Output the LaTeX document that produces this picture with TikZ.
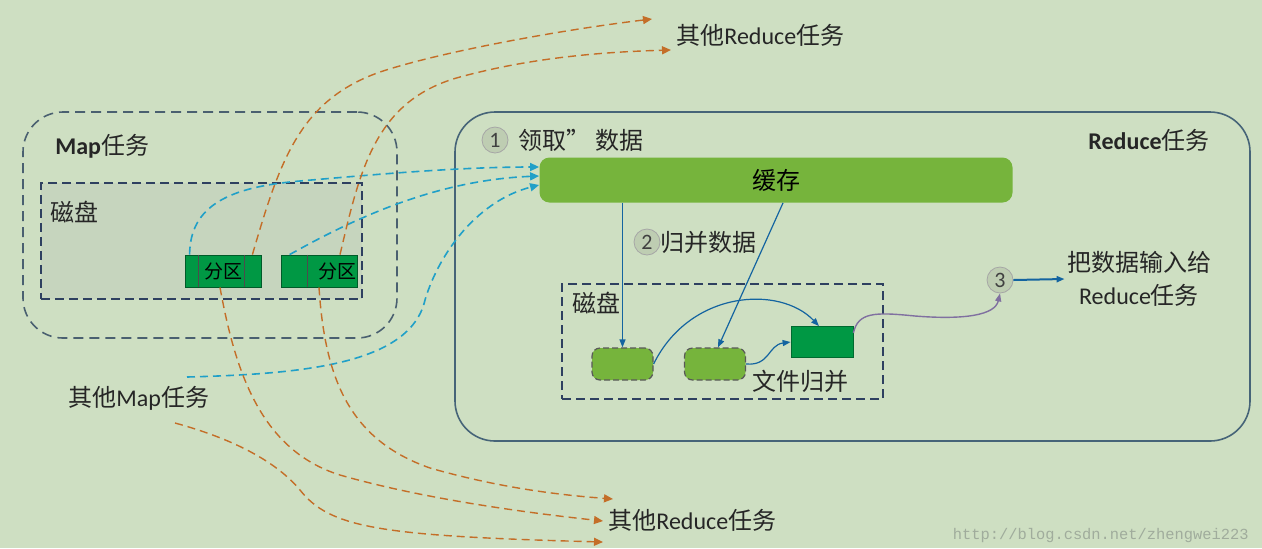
\documentclass[tikz,border=0pt]{standalone}
\usepackage{fontspec}
\setmainfont{Carlito}
\newfontfamily\cjk{Noto Sans CJK SC}
\newfontfamily\wmfont{Liberation Mono}
\usetikzlibrary{arrows.meta,fit,positioning}
\newcommand{\zh}[1]{{\cjk #1}}
\definecolor{bg}{RGB}{206,223,194}
\definecolor{mapline}{RGB}{74,96,112}
\definecolor{diskline}{RGB}{46,64,96}
\definecolor{diskfill}{RGB}{198,213,190}
\definecolor{redline}{RGB}{70,100,120}
\definecolor{cachegreen}{RGB}{118,180,60}
\definecolor{partgreen}{RGB}{0,152,68}
\definecolor{cyanline}{RGB}{32,160,200}
\definecolor{orline}{RGB}{196,110,40}
\definecolor{blueline}{RGB}{20,100,160}
\definecolor{purline}{RGB}{128,112,160}
\definecolor{wmgray}{RGB}{160,172,156}
\tikzset{
  lbl/.style={font=\fontsize{12}{14}\selectfont, inner sep=1pt, text=black!85},
  part/.style={minimum width=38pt, minimum height=16pt, inner sep=0pt, fill=partgreen,
    draw=partgreen!60!black, line width=0.4pt, font=\fontsize{9.5}{11}\selectfont},
  cache/.style={minimum width=236.5pt, minimum height=22.5pt, rounded corners=5pt,
    fill=cachegreen, font=\fontsize{12}{14}\selectfont},
  blk/.style={minimum width=30.5pt, minimum height=16pt, rounded corners=4pt, fill=cachegreen,
    draw=black!65, line width=0.6pt, dash pattern=on 3pt off 1.5pt},
  merged/.style={minimum width=31pt, minimum height=15.5pt, fill=partgreen, draw=partgreen!70!black},
  num/.style={circle, minimum size=13pt, inner sep=0pt, draw=black!35, fill=black!8!bg,
    font=\fontsize{11}{12}\selectfont, text=black!75},
  cyanl/.style={cyanline, line width=0.8pt, dash pattern=on 4pt off 2.5pt,
    -{Triangle[length=4.5pt,width=4pt]}},
  orl/.style={orline, line width=0.7pt, dash pattern=on 4pt off 2.5pt,
    -{Triangle[length=4.5pt,width=4pt]}},
  bluel/.style={blueline, line width=0.6pt, -{Triangle[length=4pt,width=3pt]}},
  purl/.style={purline, line width=0.7pt, -{Triangle[length=4pt,width=3pt]}}
}
\begin{document}
\begin{tikzpicture}[x=0.5pt,y=-0.5pt]
\fill[bg] (0,0) rectangle (1262,548);
\useasboundingbox (0,0) rectangle (1262,548);

% Map side
\node[fit={(23,112) (397,338)}, inner sep=0pt, draw=mapline, line width=0.8pt,
  dash pattern=on 5pt off 3pt, rounded corners=20pt] (map) {};
\node[lbl, anchor=west] (maplbl) at (53,146) {\textbf{Map}\zh{任务}};
\node[fit={(41,183) (362,299)}, inner sep=0pt, draw=diskline, fill=diskfill, line width=0.8pt,
  dash pattern=on 4.5pt off 2.5pt] (mdisk) {};
\node[lbl, anchor=west] (mdisklbl) at (48,212) {\zh{磁盘}};
\node[part] (p1) at (223,271) {\zh{分区}};
\node[part] (p2) at (319,271) {};
\node[font=\fontsize{9.5}{11}\selectfont, inner sep=0pt] (p2lbl) at (337,271) {\zh{分区}};
\draw[black!70, line width=0.6pt] ([xshift=7pt]p1.north west) -- ([xshift=7pt]p1.south west);
\draw[black!70, line width=0.6pt] ([xshift=-8.5pt]p1.north east) -- ([xshift=-8.5pt]p1.south east);
\draw[black!70, line width=0.6pt] ([xshift=13.5pt]p2.north west) -- ([xshift=13.5pt]p2.south west);
\node[lbl, anchor=west] (othermap) at (66,398) {\zh{其他}Map\zh{任务}};

% Reduce side
\node[fit={(455,112) (1250,441)}, inner sep=0pt, draw=redline, line width=0.8pt,
  rounded corners=20pt] (red) {};
\node[num] (c1) at (495,140) {1};
\node[lbl, anchor=west] (fetch) at (516,140) {\zh{领取”\ 数据}};
\node[lbl, anchor=east] (redlbl) at (1212,140) {\textbf{Reduce}\zh{任务}};
\node[cache] (cache) at (776,180) {\zh{缓存}};
\node[num] (c2) at (647,242) {2};
\node[lbl, anchor=west] (mergelbl) at (658,242) {\zh{归并数据}};
\node[fit={(562,284) (883,399)}, inner sep=0pt, draw=diskline, line width=0.8pt,
  dash pattern=on 4.5pt off 2.5pt] (rdisk) {};
\node[lbl, anchor=west] (rdisklbl) at (570,303) {\zh{磁盘}};
\node[blk] (b1) at (622.5,364) {};
\node[blk] (b2) at (715,364) {};
\node[merged] (mg) at (822,342) {};
\node[lbl, anchor=west] (filelbl) at (750,381) {\zh{文件归并}};
\node[num] (c3) at (1000,280) {3};
\node[lbl, align=center, font=\fontsize{12}{16.5}\selectfont] (feed) at (1139,279)
  {\zh{把数据输入给}\\Reduce\zh{任务}};

% other tasks
\node[lbl, anchor=west] (rtop) at (674,35) {\zh{其他}Reduce\zh{任务}};
\node[lbl, anchor=west] (rbot) at (606,520) {\zh{其他}Reduce\zh{任务}};
\node[font=\wmfont\fontsize{7.7}{9}\selectfont, text=wmgray, anchor=east, inner sep=0pt] (wm)
  at (1249,536) {http://blog.csdn.net/zhengwei223};

\coordinate (ta) at (652,19);
\coordinate (tb) at (671,50);
\coordinate (tc) at (613,499);
\coordinate (td) at (603,521);
\coordinate (te) at (603,542);
\coordinate (m3) at (187,377);
\coordinate (m4) at (175,423);

% fetch from map outputs
\draw[cyanl] ([xshift=2.5pt]p1.north west) .. controls (190,205) and (230,187) .. (300,181)
  .. controls (380,174) and (460,167) .. ([yshift=6.5pt]cache.west);
\draw[cyanl] ([xshift=4.5pt]p2.north west) .. controls (360,215) and (440,180) .. ([yshift=2pt]cache.west);
\draw[cyanl] (m3) .. controls (300,374) and (410,365) .. (425,300)
  .. controls (440,250) and (480,200) .. ([yshift=-2.5pt]cache.west);

% partitions to other reducers
\draw[orl] ([xshift=-4.5pt]p1.north east) .. controls (280,160) and (300,100) .. (380,72)
  .. controls (440,52) and (560,30) .. (ta);
\draw[orl] ([xshift=10.5pt]p2.north) .. controls (360,170) and (375,100) .. (460,77)
  .. controls (530,58) and (600,52) .. (tb);
\draw[orl] ([xshift=-1.5pt]p1.south) .. controls (235,370) and (260,450) .. (340,475)
  .. controls (420,498) and (520,512) .. (td);
\draw[orl] (p2.south) .. controls (325,380) and (350,440) .. (430,468)
  .. controls (500,488) and (560,495) .. (tc);
\draw[orl] (m4) .. controls (230,438) and (275,460) .. (300,490)
  .. controls (330,528) and (380,536) .. (te);

% merge
\draw[bluel] (cache.south -| b1.north) -- (b1.north);
\draw[bluel] ([xshift=3.5pt]cache.south) -- ([xshift=1.5pt]b2.north);
\draw[bluel] (b1.east) .. controls (690,290) and (780,285) .. ([xshift=-1.5pt]mg.north);
\draw[bluel] (b2.east) .. controls (770,366) and (768,345) .. (mg.west);
\draw[purl] ([yshift=4.5pt]mg.east) .. controls (858,312) and (875,312) .. (915,316)
  .. controls (965,320) and (995,315) .. (c3.south);
\draw[bluel, line width=1pt] (c3.east) -- (feed.west);
\end{tikzpicture}
\end{document}
